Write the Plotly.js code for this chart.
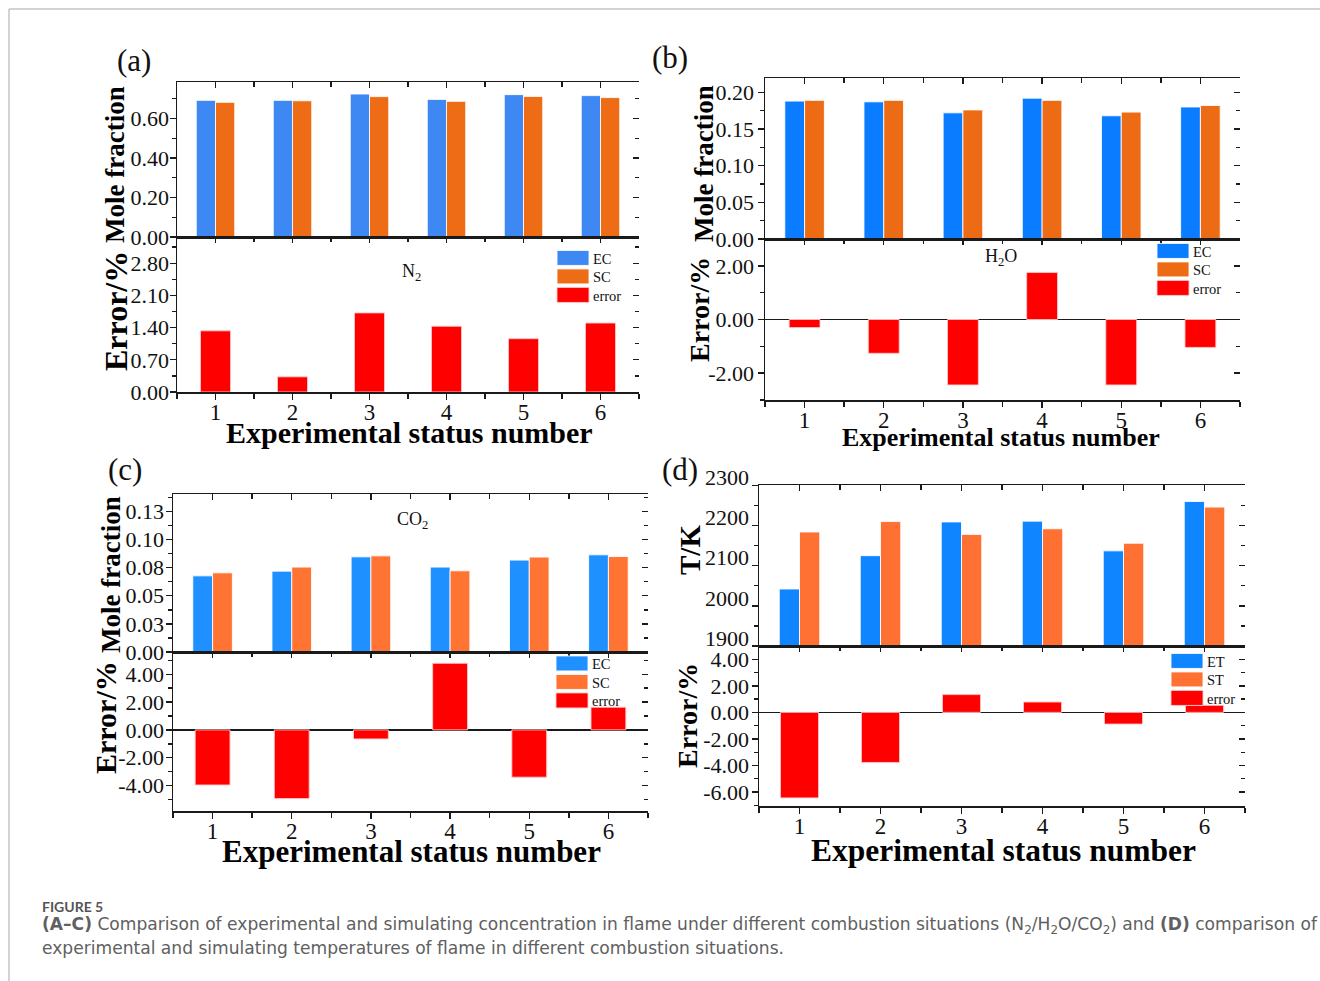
<!DOCTYPE html>
<html><head><meta charset="utf-8">
<script src="https://cdn.plot.ly/plotly-3.0.1.min.js"></script>
<style>html,body{margin:0;padding:0;background:#fff;} #chart{width:1320px;height:981px;}</style>
</head><body><div id="chart"></div>
<script>
// ---------------- data ----------------
const statusNumbers = [1, 2, 3, 4, 5, 6];
const statusLabels = ['1', '2', '3', '4', '5', '6'];

// (a) N2 mole fraction and error (%)
const n2EC = [0.692, 0.692, 0.724, 0.697, 0.721, 0.716];
const n2SC = [0.682, 0.690, 0.711, 0.687, 0.712, 0.706];
const n2Error = [1.33, 0.33, 1.72, 1.43, 1.16, 1.50];

// (b) H2O mole fraction and error (%)
const h2oEC = [0.188, 0.187, 0.172, 0.192, 0.168, 0.180];
const h2oSC = [0.189, 0.189, 0.176, 0.189, 0.173, 0.182];
const h2oError = [-0.30, -1.26, -2.44, 1.75, -2.44, -1.04];

// (c) CO2 mole fraction and error (%)
const co2EC = [0.0677, 0.0719, 0.0846, 0.0755, 0.0817, 0.0864];
const co2SC = [0.0704, 0.0755, 0.0855, 0.0722, 0.0844, 0.0849];
const co2Error = [-3.96, -4.94, -0.65, 4.79, -3.40, 1.63];

// (d) temperature (K) and error (%)
const tempET = [2042, 2125, 2209, 2211, 2137, 2260];
const tempST = [2184, 2210, 2178, 2192, 2156, 2246];
const tempError = [-6.44, -3.77, 1.34, 0.78, -0.88, 0.53];

// tick values / labels
const aTopTicks = [0, 0.2, 0.4, 0.6];
const aTopLabels = ['0.00', '0.20', '0.40', '0.60'];
const aBotTicks = [0, 0.7, 1.4, 2.1, 2.8];
const aBotLabels = ['0.00', '0.70', '1.40', '2.10', '2.80'];
const bTopTicks = [0, 0.05, 0.1, 0.15, 0.2];
const bTopLabels = ['0.00', '0.05', '0.10', '0.15', '0.20'];
const bBotTicks = [-2, 0, 2];
const bBotLabels = ['-2.00', '0.00', '2.00'];
const cTopTicks = [0, 0.025, 0.05, 0.075, 0.1, 0.125];
const cTopLabels = ['0.00', '0.03', '0.05', '0.08', '0.10', '0.13'];
const cBotTicks = [-4, -2, 0, 2, 4];
const cBotLabels = ['-4.00', '-2.00', '0.00', '2.00', '4.00'];
const dTopTicks = [1900, 2000, 2100, 2200, 2300];
const dTopLabels = ['1900', '2000', '2100', '2200', '2300'];
const dBotTicks = [-6, -4, -2, 0, 2, 4];
const dBotLabels = ['-6.00', '-4.00', '-2.00', '0.00', '2.00', '4.00'];

// ---------------- layout helpers ----------------
const W = 1320, H = 981;
const px = v => v / W;
const py = v => 1 - v / H;
const SERIF = '"Liberation Serif", "Times New Roman", serif';
const LINE = '#1a1a1a';
const ERR_COLOR = '#ff0000';

const panels = [
  { X: [177, 639], YT: [82, 237], YB: [237, 392], topRange: [0, 0.785], botRange: [0, 3.37],
    topTicks: aTopTicks, topLabels: aTopLabels, botTicks: aBotTicks, botLabels: aBotLabels,
    topMinor: 0.1, botMinor: 0.35, zero: false, topShift: 0, labelStandoff: -4,
    ec: n2EC, sc: n2SC, err: n2Error, names: ['EC', 'SC', 'error'],
    colors: ['#3d88f2', '#ee6c15'], errW: 0.39,
    xTitle: [409, 432, 30], topTitle: ['Mole fraction', 115, 165, 27], botTitle: [116, 311, 32],
    legend: [553, 242] },
  { X: [765, 1240], YT: [78, 239], YB: [239, 400], topRange: [0, 0.2195], botRange: [-3, 3],
    topTicks: bTopTicks, topLabels: bTopLabels, botTicks: bBotTicks, botLabels: bBotLabels,
    topMinor: 0.025, botMinor: 1, zero: true, topShift: 0, labelStandoff: -1,
    ec: h2oEC, sc: h2oSC, err: h2oError, names: ['EC', 'SC', 'error'],
    colors: ['#0a7cff', '#ec6b14'], errW: 0.39,
    xTitle: [1001, 437, 26], topTitle: ['Mole fraction', 704, 164, 27], botTitle: [699, 310, 28],
    legend: [1153, 235] },
  { X: [173, 648], YT: [494, 652], YB: [652, 811], topRange: [0, 0.1405], botRange: [-5.83, 5.6],
    topTicks: cTopTicks, topLabels: cTopLabels, botTicks: cBotTicks, botLabels: cBotLabels,
    topMinor: 0.0125, botMinor: 1, zero: true, topShift: 0, labelStandoff: -3,
    ec: co2EC, sc: co2SC, err: co2Error, names: ['EC', 'SC', 'error'],
    colors: ['#1e90ff', '#ff7433'], errW: 0.44,
    xTitle: [411, 851, 31], topTitle: ['Mole fraction', 111, 575, 27], botTitle: [105, 718, 30],
    legend: [552, 647.5] },
  { X: [759, 1245], YT: [485, 646], YB: [646, 806], topRange: [1900, 2301], botRange: [-7.05, 5.0],
    topTicks: dTopTicks, topLabels: dTopLabels, botTicks: dBotTicks, botLabels: dBotLabels,
    topMinor: 50, botMinor: 1, zero: true, topShift: -8, labelStandoff: -2,
    ec: tempET, sc: tempST, err: tempError, names: ['ET', 'ST', 'error'],
    colors: ['#0f85ff', '#ff7133'], errW: 0.47,
    xTitle: [1003, 850, 31.5], topTitle: ['T/K', 690, 550, 29], botTitle: [687, 716, 28],
    legend: [1167, 645] }
];

const axName = (l, n) => l + (n === 1 ? '' : n);
const axKey = (l, n) => l + 'axis' + (n === 1 ? '' : n);

function axisBase(extra) {
  return Object.assign({
    showline: true, linecolor: LINE, linewidth: 1.5,
    showgrid: false, zeroline: false, fixedrange: true,
    ticks: 'outside', ticklen: 6, tickwidth: 1.4, tickcolor: LINE,
    tickfont: { family: SERIF, size: 22, color: '#111' }
  }, extra);
}

const traces = [];
const layout = {
  width: W, height: H,
  margin: { l: 0, r: 0, t: 0, b: 0 },
  paper_bgcolor: '#ffffff', plot_bgcolor: 'rgba(0,0,0,0)',
  barmode: 'group', bargap: 0.5, bargroupgap: 0,
  showlegend: true,
  font: { family: SERIF, color: '#111' },
  annotations: [], shapes: []
};

const textAnn = (t, x, y, size, extra) => Object.assign({
  text: t, x: px(x), y: py(y), xref: 'paper', yref: 'paper', showarrow: false,
  xanchor: 'center', yanchor: 'middle', font: { family: SERIF, size: size, color: '#111' }
}, extra || {});
const boldFont = size => ({ family: SERIF, size: size, weight: 'bold', color: '#000' });

panels.forEach((p, i) => {
  const xT = 3 * i + 1, xB = 3 * i + 2, xB2 = 3 * i + 3;
  const yT = 4 * i + 1, yT2 = 4 * i + 2, yB = 4 * i + 3, yB2 = 4 * i + 4;
  const xDom = [px(p.X[0]), px(p.X[1])];
  const xRange = [0.5, 6.5];
  const legName = i === 0 ? 'legend' : 'legend' + (i + 1);
  const minorX = ticks => ({ ticks: ticks, ticklen: 5, tickmode: 'linear', tick0: 0.5, dtick: 0.5, tickcolor: LINE, tickwidth: 1.4 });

  // top subplot x axis (ticks on top, pointing in)
  layout[axKey('x', xT)] = axisBase({
    domain: xDom, anchor: axName('y', yT), range: xRange, side: 'top', mirror: true,
    ticks: 'inside', showticklabels: false, tickvals: statusNumbers, minor: minorX('inside')
  });
  // lower subplot x axis (labels)
  layout[axKey('x', xB)] = axisBase({
    domain: xDom, anchor: axName('y', yB), range: xRange, side: 'bottom', mirror: true,
    tickvals: statusNumbers, ticktext: statusLabels, ticklabelstandoff: -7,
    tickfont: { family: SERIF, size: 23, color: '#111' },
    minor: minorX('outside')
  });
  // lower subplot top ticks pointing down
  layout[axKey('x', xB2)] = axisBase({
    overlaying: axName('x', xB), anchor: axName('y', yB), range: xRange, side: 'top',
    showline: false, ticks: 'inside', showticklabels: false, tickvals: statusNumbers, minor: minorX('inside')
  });

  const minorY = (ticks, t0, dt) => ({ ticks: ticks, ticklen: 4, tickmode: 'linear', tick0: t0, dtick: dt, tickcolor: LINE, tickwidth: 1.4 });
  // top subplot y axis
  layout[axKey('y', yT)] = axisBase({
    domain: [py(p.YT[1]), py(p.YT[0])], anchor: axName('x', xT), range: p.topRange,
    tickvals: p.topTicks, ticktext: p.topLabels, ticklabelstandoff: p.labelStandoff, ticklabelshift: p.topShift,
    minor: minorY('outside', p.topRange[0], p.topMinor)
  });
  layout[axKey('y', yT2)] = axisBase({
    overlaying: axName('y', yT), anchor: axName('x', xT), side: 'right', range: p.topRange,
    showline: false, ticks: 'inside', showticklabels: false, tickvals: p.topTicks,
    minor: minorY('inside', p.topRange[0], p.topMinor)
  });
  // lower subplot y axis
  layout[axKey('y', yB)] = axisBase({
    domain: [py(p.YB[1]), py(p.YB[0])], anchor: axName('x', xB), range: p.botRange,
    tickvals: p.botTicks, ticktext: p.botLabels, ticklabelstandoff: p.labelStandoff,
    zeroline: p.zero, zerolinecolor: LINE, zerolinewidth: 1.4,
    minor: minorY('outside', 0, p.botMinor)
  });
  layout[axKey('y', yB2)] = axisBase({
    overlaying: axName('y', yB), anchor: axName('x', xB), side: 'right', range: p.botRange,
    showline: false, ticks: 'inside', showticklabels: false, tickvals: p.botTicks,
    minor: minorY('inside', 0, p.botMinor)
  });

  // axis titles (placed as in the original figure)
  layout.annotations.push(
    textAnn('Experimental status number', p.xTitle[0], p.xTitle[1], p.xTitle[2], { font: boldFont(p.xTitle[2]) }),
    textAnn(p.topTitle[0], p.topTitle[1], p.topTitle[2], p.topTitle[3], { textangle: -90, font: boldFont(p.topTitle[3]) }),
    textAnn('Error/%', p.botTitle[0], p.botTitle[1], p.botTitle[2], { textangle: -90, font: boldFont(p.botTitle[2]) })
  );

  // legend for this panel
  layout[legName] = {
    x: px(p.legend[0]), y: py(p.legend[1]), xanchor: 'left', yanchor: 'top',
    xref: 'paper', yref: 'paper',
    bgcolor: 'rgba(0,0,0,0)', borderwidth: 0,
    font: { family: SERIF, size: 14.5, color: '#111' },
    itemclick: false, itemdoubleclick: false, traceorder: 'normal'
  };

  const barLine = { color: 'rgba(255,255,255,0.85)', width: 1 };
  traces.push({
    type: 'bar', name: p.names[0], x: statusNumbers, y: p.ec,
    xaxis: axName('x', xT), yaxis: axName('y', yT), legend: legName,
    marker: { color: p.colors[0], line: barLine }, hoverinfo: 'x+y'
  });
  traces.push({
    type: 'bar', name: p.names[1], x: statusNumbers, y: p.sc,
    xaxis: axName('x', xT), yaxis: axName('y', yT), legend: legName,
    marker: { color: p.colors[1], line: barLine }, hoverinfo: 'x+y'
  });
  traces.push({
    type: 'bar', name: p.names[2], x: statusNumbers, y: p.err, width: p.errW,
    xaxis: axName('x', xB), yaxis: axName('y', yB), legend: legName,
    marker: { color: ERR_COLOR, line: { color: 'rgba(255,200,200,0.9)', width: 1 } }, hoverinfo: 'x+y'
  });
  // empty traces so the mirror-tick overlay axes are drawn
  [[xB2, yB], [xT, yT2], [xB, yB2]].forEach(([xa, ya]) => {
    traces.push({ type: 'scatter', mode: 'markers', x: [], y: [], xaxis: axName('x', xa), yaxis: axName('y', ya),
                  showlegend: false, hoverinfo: 'skip' });
  });
});

// panel labels and species labels
layout.annotations.push(
  textAnn('(a)', 134, 60, 31), textAnn('(b)', 670, 57, 31),
  textAnn('(c)', 125, 469, 31), textAnn('(d)', 680, 469, 31),
  textAnn('N<sub>2</sub>', 411, 272, 18), textAnn('H<sub>2</sub>O', 1001, 257, 18),
  textAnn('CO<sub>2</sub>', 412, 520, 18)
);
// caption
const CAP = '"DejaVu Sans", "Open Sans", sans-serif';
layout.annotations.push(
  { text: 'FIGURE 5', x: px(40), y: py(906), xref: 'paper', yref: 'paper', showarrow: false,
    xanchor: 'left', yanchor: 'middle', font: { family: 'Lato, "Open Sans", sans-serif', size: 14, color: '#555', weight: 'bold' } },
  { text: '<b>(A–C)</b> Comparison of experimental and simulating concentration in flame under different combustion situations (N<sub>2</sub>/H<sub>2</sub>O/CO<sub>2</sub>) and <b>(D)</b> comparison of',
    x: px(40), y: py(925), xref: 'paper', yref: 'paper', showarrow: false,
    xanchor: 'left', yanchor: 'middle', font: { family: CAP, size: 17.1, color: '#606060' } },
  { text: 'experimental and simulating temperatures of flame in different combustion situations.',
    x: px(40), y: py(948), xref: 'paper', yref: 'paper', showarrow: false,
    xanchor: 'left', yanchor: 'middle', font: { family: CAP, size: 17.1, color: '#606060' } }
);
// figure frame
layout.shapes.push(
  { type: 'line', xref: 'paper', yref: 'paper', x0: px(9), x1: 1, y0: py(9), y1: py(9), line: { color: '#c4c4c4', width: 1.5 } },
  { type: 'line', xref: 'paper', yref: 'paper', x0: px(9), x1: px(9), y0: py(9), y1: 0, line: { color: '#c4c4c4', width: 1.5 } }
);

const ITEM_PITCH = 18.5;
Plotly.newPlot('chart', traces, layout, { displayModeBar: false, staticPlot: true }).then(gd => {
  // widen the legend swatches to the rectangular keys of the original
  gd.querySelectorAll('.legendpoints path').forEach(el => el.setAttribute('d', 'M16,7.5H-16V-7.5H16Z'));
  // tighten legend rows to the spacing of the original
  const parse = el => {
    const m = /translate\(\s*([-\d.e]+)[ ,]+([-\d.e]+)/.exec(el.getAttribute('transform') || '');
    return m ? [parseFloat(m[1]), parseFloat(m[2])] : [0, 0];
  };
  gd.querySelectorAll('g.scrollbox').forEach(sb => {
    const items = Array.from(sb.querySelectorAll('g.traces'));
    if (!items.length) return;
    const p0 = parse(items[0]);
    items.forEach((el, k) => {
      const p = parse(el);
      el.setAttribute('transform', 'translate(' + p[0] + ',' + (p0[1] + k * ITEM_PITCH) + ')');
    });
  });
});
</script>
</body></html>
